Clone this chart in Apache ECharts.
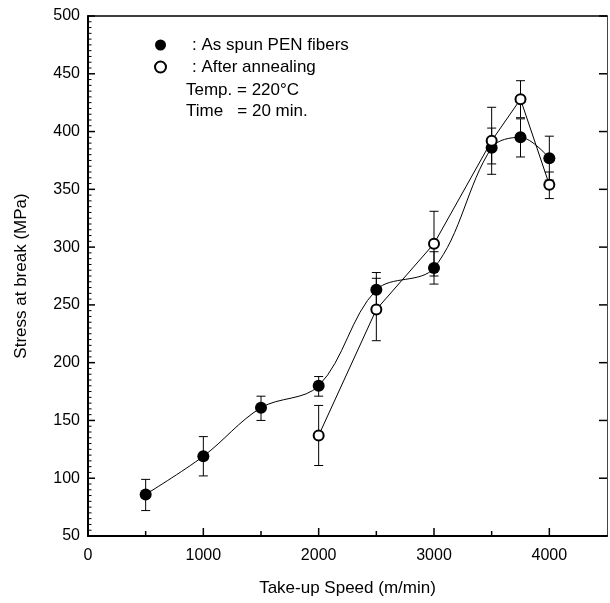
<!DOCTYPE html>
<html>
<head>
<meta charset="utf-8">
<script src="https://cdn.jsdelivr.net/npm/echarts@6/dist/echarts.min.js"></script>
<style>html,body{margin:0;padding:0;background:#fff}#c{width:610px;height:603px}</style>
</head>
<body>
<div id="c"></div>
<script>
// Data
const spunSpeed = [500, 1000, 1500, 2000, 2500, 3000, 3500, 3750, 4000];
const spunStress = [86, 119, 161, 180, 263, 282, 386, 395, 377];
const spunLow = [72, 102, 150, 171, 249, 268, 372, 378, 358];
const spunHigh = [99, 136, 171, 188, 278, 296, 403, 411, 396];

const annealSpeed = [2000, 2500, 3000, 3500, 3750, 4000];
const annealStress = [137, 246, 303, 392, 428, 354];
const annealLow = [111, 219, 275, 363, 412, 342];
const annealHigh = [163, 273, 331, 421, 444, 365];

// Axis ticks
const xMajorTicks = [0, 1000, 2000, 3000, 4000];
const xMinorTicks = [500, 1500, 2500, 3500];
const yMajorTicks = [50, 100, 150, 200, 250, 300, 350, 400, 450, 500];
const yMinorStep = 5;

const xMin = 0, xMax = 4500;
const yMin = 50, yMax = 500;

const spunName = 'As spun PEN fibers';
const annealName = 'After annealing';
const noteLines = ['Temp. = 220°C', 'Time   = 20 min.'];
const xTitle = 'Take-up Speed (m/min)';
const yTitle = 'Stress at break (MPa)';

const FONT = '"Liberation Sans", Arial, Helvetica, sans-serif';
const INK = '#000';

function pairs(xs, ys) { return xs.map((x, i) => [x, ys[i]]); }
function bars(xs, lo, hi) { return xs.map((x, i) => [x, lo[i], hi[i]]); }

// tick data: [kind, value]  kind: 0 left major, 1 left minor, 2 right major, 3 bottom major, 4 bottom minor
const tickData = [];
yMajorTicks.forEach(v => { tickData.push([0, v]); tickData.push([2, v]); });
for (let v = yMin + yMinorStep; v < yMax; v += yMinorStep) {
  if (v % 50 !== 0) tickData.push([1, v]);
}
xMajorTicks.forEach(v => tickData.push([3, v]));
xMinorTicks.forEach(v => tickData.push([4, v]));

function tickRender(params, api) {
  const kind = api.value(0);
  const v = api.value(1);
  let p, q, w = 1.5;
  if (kind === 0 || kind === 1) {
    p = api.coord([xMin, v]);
    const len = kind === 0 ? 7 : 3.5;
    if (kind === 1) w = 1;
    q = [p[0] + len, p[1]];
  } else if (kind === 2) {
    p = api.coord([xMax, v]);
    q = [p[0] - 8, p[1]];
  } else {
    p = api.coord([v, yMin]);
    q = [p[0], p[1] - (kind === 3 ? 8 : 5)];
  }
  return { type: 'line', shape: { x1: p[0], y1: p[1], x2: q[0], y2: q[1] }, style: { stroke: INK, lineWidth: w } };
}

function errRender(params, api) {
  const x = api.value(0);
  const lo = api.coord([x, api.value(1)]);
  const hi = api.coord([x, api.value(2)]);
  const hw = 4.5;
  const st = { stroke: INK, lineWidth: 1 };
  return {
    type: 'group',
    children: [
      { type: 'line', shape: { x1: lo[0], y1: lo[1], x2: hi[0], y2: hi[1] }, style: st },
      { type: 'line', shape: { x1: lo[0] - hw, y1: lo[1], x2: lo[0] + hw, y2: lo[1] }, style: st },
      { type: 'line', shape: { x1: hi[0] - hw, y1: hi[1], x2: hi[0] + hw, y2: hi[1] }, style: st }
    ]
  };
}

const chart = echarts.init(document.getElementById('c'), null, { renderer: 'canvas' });
const option = {
  backgroundColor: '#fff',
  animation: false,
  textStyle: { fontFamily: FONT, color: INK },
  grid: { left: 88, right: 1, top: 16, bottom: 67, containLabel: false },
  legend: {
    orient: 'vertical',
    left: 149,
    top: 30,
    itemWidth: 11,
    itemHeight: 11,
    itemGap: 2,
    selectedMode: false,
    formatter: ': {name}',
    textStyle: { fontFamily: FONT, fontSize: 17, color: INK, lineHeight: 20, padding: [0, 0, 0, 21] },
    data: [
      { name: spunName, icon: 'circle', itemStyle: { color: INK, borderWidth: 0 } },
      { name: annealName, icon: 'circle', itemStyle: { color: '#fff', borderColor: INK, borderWidth: 2 } }
    ]
  },
  graphic: [
    { type: 'text', left: 186, top: 82, style: { text: noteLines[0], font: '17px ' + FONT, fill: INK } },
    { type: 'text', left: 186, top: 103, style: { text: noteLines[1], font: '17px ' + FONT, fill: INK } }
  ],
  xAxis: [
    {
      type: 'value', position: 'bottom', min: xMin, max: xMax, interval: 1000,
      axisLine: { show: true, onZero: false, lineStyle: { color: INK, width: 2 } },
      axisTick: { show: false },
      axisLabel: { fontSize: 16, color: INK, fontFamily: FONT, margin: 12,
        formatter: v => (xMajorTicks.indexOf(v) >= 0) ? String(v) : '' },
      splitLine: { show: false },
      name: xTitle, nameLocation: 'middle', nameGap: 44,
      nameTextStyle: { fontSize: 17, color: INK, fontFamily: FONT }
    },
    {
      type: 'value', position: 'top', min: xMin, max: xMax, interval: 1000,
      axisLine: { show: true, onZero: false, lineStyle: { color: INK, width: 1.5 } },
      axisTick: { show: false },
      axisLabel: { show: false },
      splitLine: { show: false }
    }
  ],
  yAxis: [
    {
      type: 'value', position: 'left', min: yMin, max: yMax, interval: 50,
      axisLine: { show: true, onZero: false, lineStyle: { color: INK, width: 2 } },
      axisTick: { show: false },
      axisLabel: { fontSize: 16, color: INK, fontFamily: FONT, margin: 8 },
      splitLine: { show: false },
      name: yTitle, nameLocation: 'middle', nameGap: 58,
      nameTextStyle: { fontSize: 17, color: INK, fontFamily: FONT }
    },
    {
      type: 'value', position: 'right', min: yMin, max: yMax, interval: 50,
      axisLine: { show: true, onZero: false, lineStyle: { color: '#444', width: 1 } },
      axisTick: { show: false },
      axisLabel: { show: false },
      splitLine: { show: false }
    }
  ],
  series: [
    {
      name: 'ticks', type: 'custom', xAxisIndex: 0, yAxisIndex: 0, z: 5,
      renderItem: tickRender, data: tickData, silent: true, clip: false
    },
    {
      name: 'spunErr', type: 'custom', xAxisIndex: 0, yAxisIndex: 0, z: 1,
      renderItem: errRender, data: bars(spunSpeed, spunLow, spunHigh), silent: true
    },
    {
      name: 'annealErr', type: 'custom', xAxisIndex: 0, yAxisIndex: 0, z: 1,
      renderItem: errRender, data: bars(annealSpeed, annealLow, annealHigh), silent: true
    },
    {
      name: spunName, type: 'line', xAxisIndex: 0, yAxisIndex: 0, z: 3,
      data: pairs(spunSpeed, spunStress),
      smooth: 0.35,
      symbol: 'circle', symbolSize: 12,
      itemStyle: { color: INK },
      lineStyle: { color: INK, width: 1 }
    },
    {
      name: annealName, type: 'line', xAxisIndex: 0, yAxisIndex: 0, z: 4,
      data: pairs(annealSpeed, annealStress),
      smooth: false,
      symbol: 'circle', symbolSize: 10,
      itemStyle: { color: '#fff', borderColor: INK, borderWidth: 2 },
      lineStyle: { color: INK, width: 1 }
    }
  ]
};
chart.setOption(option);
</script>
</body>
</html>
